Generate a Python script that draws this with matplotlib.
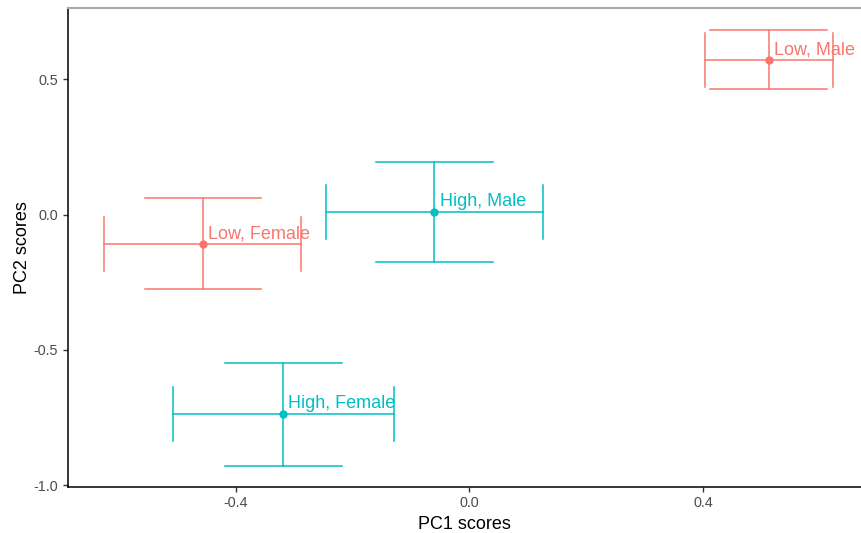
import matplotlib
matplotlib.use('Agg')
import matplotlib.pyplot as plt

plt.rcParams['font.family'] = ['Liberation Sans', 'DejaVu Sans']

# group means and error bar limits
groups  = ['Low, Male', 'High, Male', 'Low, Female', 'High, Female']
colours = ['#F8766D', '#00BFC4', '#F8766D', '#00BFC4']
pc1     = [0.512, -0.060, -0.456, -0.319]
pc2     = [0.571, 0.009, -0.109, -0.737]
pc1_lo  = [0.403, -0.246, -0.625, -0.508]
pc1_hi  = [0.622, 0.125, -0.288, -0.129]
pc2_lo  = [0.463, -0.175, -0.275, -0.928]
pc2_hi  = [0.682, 0.193, 0.060, -0.549]
cap     = 0.2

fig = plt.figure(figsize=(8.61, 5.33), dpi=100)
ax = fig.add_axes([0.079, 0.087, 0.921, 0.898])

for i in range(len(groups)):
    c = colours[i]
    # vertical error bar with caps
    ax.plot([pc1[i], pc1[i]], [pc2_lo[i], pc2_hi[i]], color=c, lw=1.1, zorder=3)
    for yy in (pc2_lo[i], pc2_hi[i]):
        ax.plot([pc1[i]-cap/2, pc1[i]+cap/2], [yy, yy], color=c, lw=1.1, zorder=3)
    # horizontal error bar with caps
    ax.plot([pc1_lo[i], pc1_hi[i]], [pc2[i], pc2[i]], color=c, lw=1.1, zorder=3)
    for xx in (pc1_lo[i], pc1_hi[i]):
        ax.plot([xx, xx], [pc2[i]-cap/2, pc2[i]+cap/2], color=c, lw=1.1, zorder=3)
    ax.plot(pc1[i], pc2[i], 'o', color=c, ms=5, zorder=4)
    ax.annotate(groups[i], (pc1[i], pc2[i]), xytext=(3.8, 4.3),
                textcoords='offset points', color=c, fontsize=13,
                ha='left', va='baseline', zorder=2)

ax.set_xlim(-0.687, 0.670)
ax.set_ylim(-1.006, 0.764)
ax.set_xticks([-0.4, 0.0, 0.4])
ax.set_xticklabels(['-0.4', '0.0', '0.4'])
ax.set_yticks([-1.0, -0.5, 0.0, 0.5])
ax.set_yticklabels(['-1.0', '-0.5', '0.0', '0.5'])
ax.tick_params(labelsize=10.4, labelcolor='#4D4D4D', length=3.5, width=1, color='#333333')
ax.set_xlabel('PC1 scores', fontsize=13, labelpad=4)
ax.set_ylabel('PC2 scores', fontsize=13, labelpad=2)

ax.spines['right'].set_visible(False)
ax.spines['top'].set_color('#AAAAAA')
ax.spines['top'].set_linewidth(1.5)
ax.spines['left'].set_linewidth(1.1)
ax.spines['bottom'].set_linewidth(1.1)

fig.savefig('out.png', dpi=100)
